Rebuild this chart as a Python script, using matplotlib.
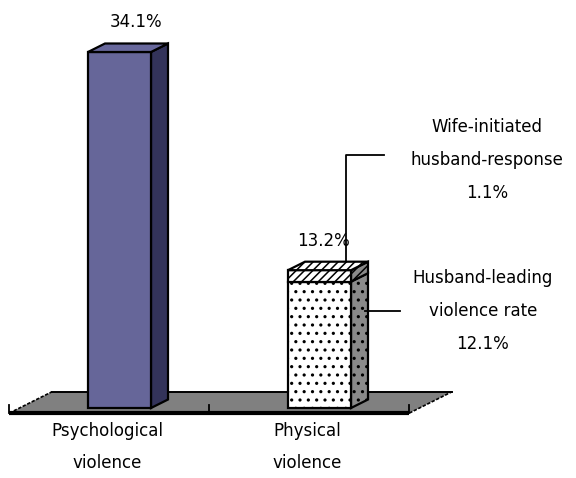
import numpy as np
import matplotlib
matplotlib.use("Agg")
import matplotlib.pyplot as plt
from matplotlib.patches import Polygon, Rectangle

# ---- data ----
categories = ["Psychological\nviolence", "Physical\nviolence"]
totals = [34.1, 13.2]
husband_leading = 12.1
wife_initiated = 1.1
value_labels = ["34.1%", "13.2%"]
wife_label = "Wife-initiated\nhusband-response\n1.1%"
husband_label = "Husband-leading\nviolence rate\n12.1%"

plt.rcParams["font.family"] = ["DejaVu Sans"]
plt.rcParams["hatch.linewidth"] = 1.1

W, H, DPI = 5.76, 4.78, 100
fig = plt.figure(figsize=(W, H), dpi=DPI)
ax = fig.add_axes([0, 0, 1, 1])
ax.axis("off")

# horizontal: 200 px per category, vertical: ~10.44 px per percent
ax.set_xlim(-0.5975, -0.5975 + 576 / 200)
ax.set_ylim(-70 / 10.44, (478 - 70) / 10.44)

DEPTH = np.array([17.0, 8.5])  # 3-D depth vector in display pixels (right, up)
BAR_W = 0.315
EDGE_LW = 1.6


def P(x, y, t=0.0):
    """Data point (x, y) pushed back t units of depth."""
    d = ax.transData.transform((x, y)) + t * DEPTH
    return ax.transData.inverted().transform(d)


def box(x, y0, y1, front, side, top, hatch_front=None, hatch_side=None,
        hatch_top=None, draw_top=True, z=3):
    xl, xr = x - BAR_W / 2, x + BAR_W / 2
    ax.add_patch(Polygon([P(xr, y0), P(xr, y0, 1), P(xr, y1, 1), P(xr, y1)],
                         closed=True, facecolor=side, edgecolor="black",
                         lw=EDGE_LW, hatch=hatch_side, zorder=z))
    ax.add_patch(Rectangle((xl, y0), BAR_W, y1 - y0, facecolor=front,
                           edgecolor="black", lw=EDGE_LW, hatch=hatch_front,
                           zorder=z + 0.1))
    if draw_top:
        ax.add_patch(Polygon([P(xl, y1), P(xr, y1), P(xr, y1, 1), P(xl, y1, 1)],
                             closed=True, facecolor=top, edgecolor="black",
                             lw=EDGE_LW, hatch=hatch_top, zorder=z + 0.2))


# ---- floor ----
t_front, t_back = -0.6, 1.9
fx0, fx1 = -0.5, 1.5
floor = [P(fx0, 0, t_front), P(fx1, 0, t_front), P(fx1, 0, t_back), P(fx0, 0, t_back)]
ax.add_patch(Polygon(floor, closed=True, facecolor="#808080", edgecolor="none", zorder=1))
ax.plot([floor[3][0], floor[2][0]], [floor[3][1], floor[2][1]],
        color="black", lw=1.4, zorder=1.5)
for a, b in [(floor[0], floor[3]), (floor[1], floor[2])]:
    ax.plot([a[0], b[0]], [a[1], b[1]], color="black", lw=1.2, ls=(0, (2, 1)), zorder=1.5)
ax.plot([floor[0][0], floor[1][0]], [floor[0][1], floor[1][1]], color="black",
        lw=3.0, solid_capstyle="butt", zorder=2)
tick_len = 8 / 10.44
for k in range(len(categories) + 1):
    p = P(fx0 + k, 0, t_front)
    ax.plot([p[0], p[0]], [p[1], p[1] + tick_len], color="black", lw=1.3, zorder=2)

# ---- bars ----
box(0, 0, totals[0], "#666699", "#33335a", "#68689c")
box(1, 0, husband_leading, "white", "#8a8a8a", "white",
    hatch_front="..", hatch_side="..", draw_top=False)
box(1, husband_leading, husband_leading + wife_initiated, "white", "#8a8a8a", "white",
    hatch_front="////", hatch_side="////", hatch_top="////", z=4)

# ---- value labels ----
label_dx = [0.0, -13.0]
for i, (tot, lab) in enumerate(zip(totals, value_labels)):
    p = P(i + label_dx[i] / 200, tot, 1)
    ax.text(p[0], p[1] + 21 / 10.44, lab, ha="center", va="center",
            fontsize=12, zorder=6)

# ---- category labels ----
for i, cat in enumerate(categories):
    p = P(i - 0.012, 0, t_front)
    ax.text(p[0], p[1] - 34 / 10.44, cat, ha="center", va="center",
            fontsize=12, linespacing=2.05, zorder=6)

# ---- segment annotations ----
top_pt = P(1 + 0.05, husband_leading + wife_initiated, 1)
wife_xy = (1.8375, 23.75)
ax.plot([top_pt[0], top_pt[0], 1.32], [top_pt[1], wife_xy[1] + 0.45, wife_xy[1] + 0.45],
        color="black", lw=1.3, zorder=5)
ax.text(wife_xy[0], wife_xy[1], wife_label, ha="center", va="center",
        fontsize=12, linespacing=2.1, zorder=6)

side_pt = P(1 + BAR_W / 2, 0, 0.82)
hus_xy = (1.8175, 9.29)
ax.plot([side_pt[0], 1.40], [hus_xy[1], hus_xy[1]], color="black", lw=1.3, zorder=5)
ax.text(hus_xy[0], hus_xy[1], husband_label, ha="center", va="center",
        fontsize=12, linespacing=2.05, zorder=6)

fig.savefig("out.png", dpi=DPI)
